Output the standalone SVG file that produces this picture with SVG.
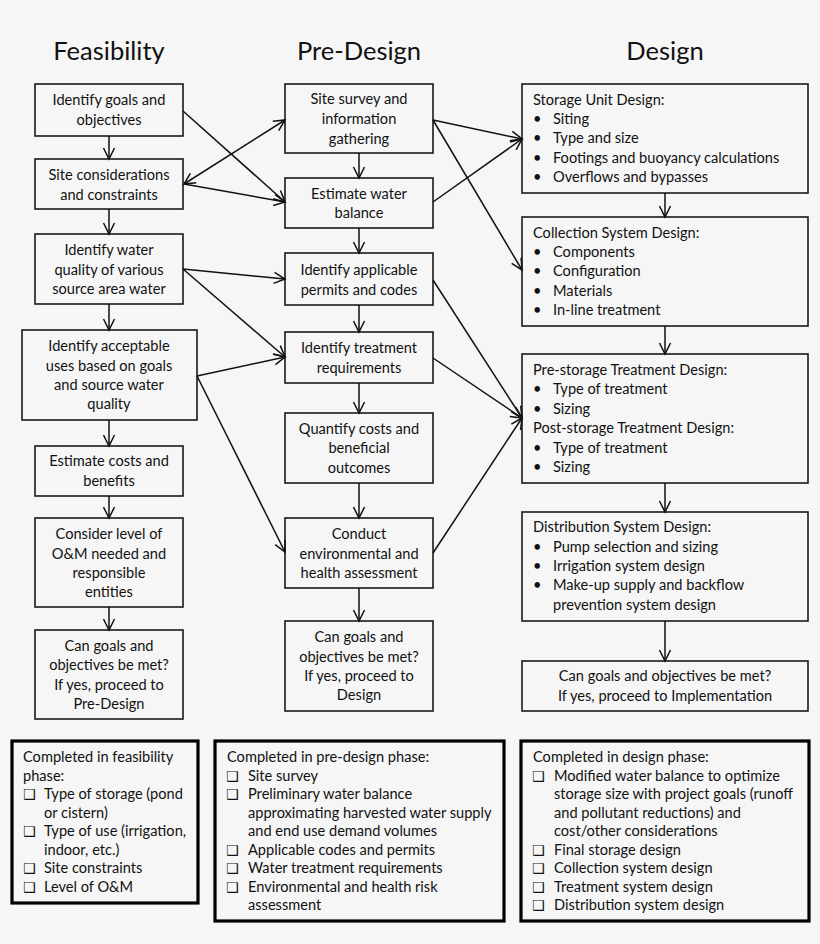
<svg xmlns="http://www.w3.org/2000/svg" width="820" height="944" viewBox="0 0 820 944">
<style>
.bg{fill:#f6f6f6}
.box{fill:#f6f6f6;stroke:#1a1a1a;stroke-width:1.6}
.tbox{fill:#f6f6f6;stroke:#000;stroke-width:3.2}
text{font-family:Lato,"Open Sans","Liberation Sans",sans-serif;font-size:14.6px;fill:#111}
.c{text-anchor:middle}
.title{font-size:25.5px;text-anchor:middle}
.cb{font-family:"DejaVu Sans",sans-serif;font-size:14px;font-weight:bold}
.con line{stroke:#111;stroke-width:1.5;fill:none}
</style>
<defs>
<marker id="ah" markerUnits="userSpaceOnUse" markerWidth="14" markerHeight="14" viewBox="0 0 14 14" refX="12" refY="7" orient="auto-start-reverse">
<path d="M1,1.5 L12,7 L1,12.5" fill="none" stroke="#111" stroke-width="1.5"/>
</marker>
</defs>
<rect class="bg" x="0" y="0" width="820" height="944"/>

<g id="titles">
<text class="title" x="109" y="60">Feasibility</text>
<text class="title" x="359" y="60">Pre-Design</text>
<text class="title" x="665" y="60">Design</text>
</g>

<g id="f1"><rect class="box" x="35" y="84" width="148" height="52"/>
<text class="c" x="109" y="105">Identify goals and</text><text class="c" x="109" y="125">objectives</text></g>
<g id="f2"><rect class="box" x="35" y="159" width="148" height="50"/>
<text class="c" x="109" y="180">Site considerations</text><text class="c" x="109" y="200">and constraints</text></g>
<g id="f3"><rect class="box" x="35" y="234" width="148" height="70"/>
<text class="c" x="109" y="255">Identify water</text><text class="c" x="109" y="275">quality of various</text><text class="c" x="109" y="294">source area water</text></g>
<g id="f4"><rect class="box" x="22" y="330" width="175" height="90"/>
<text class="c" x="109" y="351">Identify acceptable</text><text class="c" x="109" y="371">uses based on goals</text><text class="c" x="109" y="390">and source water</text><text class="c" x="109" y="409">quality</text></g>
<g id="f5"><rect class="box" x="35" y="446" width="148" height="50"/>
<text class="c" x="109" y="466">Estimate costs and</text><text class="c" x="109" y="486">benefits</text></g>
<g id="f6"><rect class="box" x="35" y="518" width="148" height="89"/>
<text class="c" x="109" y="539">Consider level of</text><text class="c" x="109" y="559">O&amp;M needed and</text><text class="c" x="109" y="578">responsible</text><text class="c" x="109" y="597">entities</text></g>
<g id="f7"><rect class="box" x="35" y="630" width="148" height="89"/>
<text class="c" x="109" y="651">Can goals and</text><text class="c" x="109" y="670">objectives be met?</text><text class="c" x="109" y="690">If yes, proceed to</text><text class="c" x="109" y="709">Pre-Design</text></g>

<g id="p1"><rect class="box" x="285" y="84" width="148" height="69"/>
<text class="c" x="359" y="104">Site survey and</text><text class="c" x="359" y="124">information</text><text class="c" x="359" y="144">gathering</text></g>
<g id="p2"><rect class="box" x="285" y="178" width="148" height="50"/>
<text class="c" x="359" y="199">Estimate water</text><text class="c" x="359" y="218">balance</text></g>
<g id="p3"><rect class="box" x="285" y="253" width="148" height="52"/>
<text class="c" x="359" y="275">Identify applicable</text><text class="c" x="359" y="295">permits and codes</text></g>
<g id="p4"><rect class="box" x="285" y="332" width="148" height="51"/>
<text class="c" x="359" y="353">Identify treatment</text><text class="c" x="359" y="373">requirements</text></g>
<g id="p5"><rect class="box" x="285" y="413" width="148" height="70"/>
<text class="c" x="359" y="434">Quantify costs and</text><text class="c" x="359" y="453">beneficial</text><text class="c" x="359" y="473">outcomes</text></g>
<g id="p6"><rect class="box" x="285" y="518" width="148" height="70"/>
<text class="c" x="359" y="539">Conduct</text><text class="c" x="359" y="559">environmental and</text><text class="c" x="359" y="578">health assessment</text></g>
<g id="p7"><rect class="box" x="285" y="621" width="148" height="90"/>
<text class="c" x="359" y="642">Can goals and</text><text class="c" x="359" y="662">objectives be met?</text><text class="c" x="359" y="681">If yes, proceed to</text><text class="c" x="359" y="700">Design</text></g>

<g id="d1"><rect class="box" x="522" y="84" width="286" height="109"/>
<text x="533" y="105">Storage Unit Design:</text>
<text x="533" y="124">•</text><text x="553" y="124">Siting</text>
<text x="533" y="143">•</text><text x="553" y="143">Type and size</text>
<text x="533" y="163">•</text><text x="553" y="163">Footings and buoyancy calculations</text>
<text x="533" y="182">•</text><text x="553" y="182">Overflows and bypasses</text></g>
<g id="d2"><rect class="box" x="522" y="217" width="286" height="109"/>
<text x="533" y="238">Collection System Design:</text>
<text x="533" y="257">•</text><text x="553" y="257">Components</text>
<text x="533" y="276">•</text><text x="553" y="276">Configuration</text>
<text x="533" y="296">•</text><text x="553" y="296">Materials</text>
<text x="533" y="315">•</text><text x="553" y="315">In-line treatment</text></g>
<g id="d3"><rect class="box" x="522" y="354" width="286" height="129"/>
<text x="533" y="375">Pre-storage Treatment Design:</text>
<text x="533" y="394">•</text><text x="553" y="394">Type of treatment</text>
<text x="533" y="414">•</text><text x="553" y="414">Sizing</text>
<text x="533" y="433">Post-storage Treatment Design:</text>
<text x="533" y="453">•</text><text x="553" y="453">Type of treatment</text>
<text x="533" y="472">•</text><text x="553" y="472">Sizing</text></g>
<g id="d4"><rect class="box" x="522" y="512" width="286" height="109"/>
<text x="533" y="532">Distribution System Design:</text>
<text x="533" y="552">•</text><text x="553" y="552">Pump selection and sizing</text>
<text x="533" y="571">•</text><text x="553" y="571">Irrigation system design</text>
<text x="533" y="590">•</text><text x="553" y="590">Make-up supply and backflow</text>
<text x="553" y="610">prevention system design</text></g>
<g id="d5"><rect class="box" x="522" y="661" width="286" height="50"/>
<text class="c" x="665" y="681">Can goals and objectives be met?</text>
<text class="c" x="665" y="701">If yes, proceed to Implementation</text></g>

<g id="sumF"><rect class="tbox" x="12" y="741" width="186" height="162"/>
<text x="23" y="762">Completed in feasibility</text>
<text x="23" y="781">phase:</text>
<text class="cb" x="23" y="799">❑</text><text x="44" y="799">Type of storage (pond</text>
<text x="44" y="818">or cistern)</text>
<text class="cb" x="23" y="836">❑</text><text x="44" y="836">Type of use (irrigation,</text>
<text x="44" y="855">indoor, etc.)</text>
<text class="cb" x="23" y="873">❑</text><text x="44" y="873">Site constraints</text>
<text class="cb" x="23" y="892">❑</text><text x="44" y="892">Level of O&amp;M</text></g>
<g id="sumP"><rect class="tbox" x="215" y="741" width="289" height="180"/>
<text x="227" y="762">Completed in pre-design phase:</text>
<text class="cb" x="226" y="781">❑</text><text x="248" y="781">Site survey</text>
<text class="cb" x="226" y="799">❑</text><text x="248" y="799">Preliminary water balance</text>
<text x="248" y="818">approximating harvested water supply</text>
<text x="248" y="836">and end use demand volumes</text>
<text class="cb" x="226" y="855">❑</text><text x="248" y="855">Applicable codes and permits</text>
<text class="cb" x="226" y="873">❑</text><text x="248" y="873">Water treatment requirements</text>
<text class="cb" x="226" y="892">❑</text><text x="248" y="892">Environmental and health risk</text>
<text x="248" y="910">assessment</text></g>
<g id="sumD"><rect class="tbox" x="521" y="741" width="288" height="180"/>
<text x="533" y="762">Completed in design phase:</text>
<text class="cb" x="532" y="781">❑</text><text x="554" y="781">Modified water balance to optimize</text>
<text x="554" y="799">storage size with project goals (runoff</text>
<text x="554" y="818">and pollutant reductions) and</text>
<text x="554" y="836">cost/other considerations</text>
<text class="cb" x="532" y="855">❑</text><text x="554" y="855">Final storage design</text>
<text class="cb" x="532" y="873">❑</text><text x="554" y="873">Collection system design</text>
<text class="cb" x="532" y="892">❑</text><text x="554" y="892">Treatment system design</text>
<text class="cb" x="532" y="910">❑</text><text x="554" y="910">Distribution system design</text></g>

<g id="connectors" class="con">
<line x1="109" y1="136" x2="109" y2="159" marker-end="url(#ah)"/>
<line x1="109" y1="209" x2="109" y2="234" marker-end="url(#ah)"/>
<line x1="109" y1="304" x2="109" y2="330" marker-end="url(#ah)"/>
<line x1="109" y1="420" x2="109" y2="446" marker-end="url(#ah)"/>
<line x1="109" y1="496" x2="109" y2="518" marker-end="url(#ah)"/>
<line x1="109" y1="607" x2="109" y2="630" marker-end="url(#ah)"/>
<line x1="359" y1="153" x2="359" y2="178" marker-end="url(#ah)"/>
<line x1="359" y1="228" x2="359" y2="253" marker-end="url(#ah)"/>
<line x1="359" y1="305" x2="359" y2="332" marker-end="url(#ah)"/>
<line x1="359" y1="383" x2="359" y2="413" marker-end="url(#ah)"/>
<line x1="359" y1="483" x2="359" y2="518" marker-end="url(#ah)"/>
<line x1="359" y1="588" x2="359" y2="621" marker-end="url(#ah)"/>
<line x1="665" y1="193" x2="665" y2="217" marker-end="url(#ah)"/>
<line x1="665" y1="326" x2="665" y2="354" marker-end="url(#ah)"/>
<line x1="665" y1="483" x2="665" y2="512" marker-end="url(#ah)"/>
<line x1="665" y1="621" x2="665" y2="661" marker-end="url(#ah)"/>
<line x1="183" y1="111" x2="285" y2="202" marker-end="url(#ah)"/>
<line x1="184" y1="184" x2="285" y2="120" marker-start="url(#ah)" marker-end="url(#ah)"/>
<line x1="184" y1="184" x2="285" y2="202" marker-end="url(#ah)"/>
<line x1="183" y1="269" x2="285" y2="279" marker-end="url(#ah)"/>
<line x1="183" y1="269" x2="285" y2="357" marker-end="url(#ah)"/>
<line x1="197" y1="376" x2="285" y2="357" marker-end="url(#ah)"/>
<line x1="197" y1="376" x2="285" y2="552" marker-end="url(#ah)"/>
<line x1="433" y1="120" x2="522" y2="139" marker-end="url(#ah)"/>
<line x1="433" y1="202" x2="522" y2="139" marker-end="url(#ah)"/>
<line x1="433" y1="120" x2="522" y2="270" marker-end="url(#ah)"/>
<line x1="433" y1="280" x2="522" y2="418" marker-end="url(#ah)"/>
<line x1="433" y1="358" x2="522" y2="418" marker-end="url(#ah)"/>
<line x1="433" y1="553" x2="522" y2="418" marker-end="url(#ah)"/>
</g>
</svg>
